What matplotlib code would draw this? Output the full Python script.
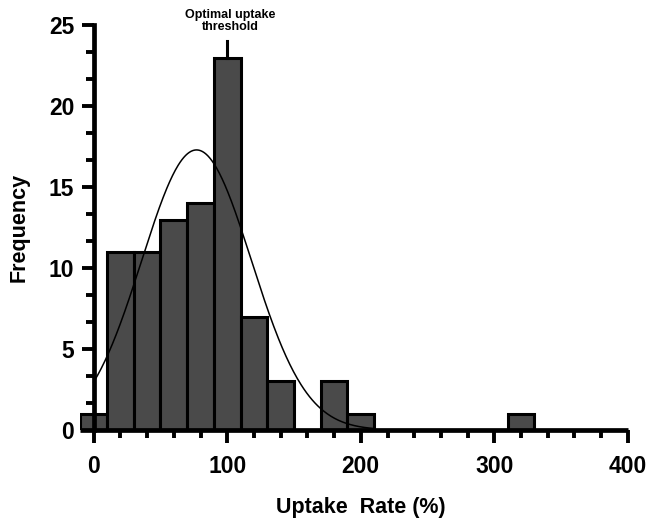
import numpy as np
import matplotlib
matplotlib.use("Agg")
import matplotlib.pyplot as plt
from matplotlib.ticker import MultipleLocator

plt.rcParams['font.family'] = ['Liberation Sans', 'DejaVu Sans']
plt.rcParams['font.weight'] = 'bold'

# Data
bin_centers = [0, 20, 40, 60, 80, 100, 120, 140, 160, 180, 200, 220, 240, 260, 280, 300, 320]
counts      = [1, 11, 11, 13, 14, 23, 7, 3, 0, 3, 1, 0, 0, 0, 0, 0, 1]
bin_width = 20
# Fitted Gaussian curve parameters
gauss_amp = 17.3
gauss_mean = 77
gauss_sd = 41
xticks = [0, 100, 200, 300, 400]
yticks = [0, 5, 10, 15, 20, 25]
threshold_x = 100
annot_text = "Optimal uptake\nthreshold"

fig = plt.figure(figsize=(6.48, 5.26), dpi=100)
ax = fig.add_axes([0.124, 0.1825, 0.845, 0.7695])

ax.bar(bin_centers, counts, width=bin_width, color='#4a4a4a', edgecolor='black',
       linewidth=2.2, zorder=2)

xs = np.linspace(0, 210, 300)
ys = gauss_amp * np.exp(-(xs - gauss_mean) ** 2 / (2 * gauss_sd ** 2))
ax.plot(xs, ys, color='black', linewidth=1.1, zorder=3)

# threshold marker
top = counts[bin_centers.index(threshold_x)]
ax.plot([threshold_x, threshold_x], [top, top + 1.0], color='black', linewidth=2.2,
        clip_on=False, zorder=3)
ax.text(threshold_x + 2, 24.5, annot_text, ha='center', va='bottom', fontsize=9,
        fontweight='bold', linespacing=1.05)

ax.set_xlim(-10, 400)
ax.set_ylim(0, 25)
ax.spines['left'].set_position(('data', 0))
ax.spines['left'].set_bounds(0, 25)
ax.spines['top'].set_visible(False)
ax.spines['right'].set_visible(False)
for s in ['left', 'bottom']:
    ax.spines[s].set_linewidth(3.4)
ax.spines['bottom'].set_capstyle('butt')

ax.set_xticks(xticks)
ax.set_yticks(yticks)
ax.xaxis.set_minor_locator(MultipleLocator(20))
ax.yaxis.set_minor_locator(MultipleLocator(5 / 3))
ax.tick_params(axis='both', which='major', direction='out', length=9, width=2.8,
               labelsize=16.5, pad=5)
ax.tick_params(axis='x', which='major', pad=9)
ax.tick_params(axis='both', which='minor', direction='out', length=6, width=2.8)
for lab in ax.get_xticklabels() + ax.get_yticklabels():
    lab.set_fontweight('bold')

ax.set_xlabel("Uptake  Rate (%)", fontsize=15.5, fontweight='bold')
ax.set_ylabel("Frequency", fontsize=15.5, fontweight='bold')
ax.yaxis.set_label_coords(-0.093, 0.5)
ax.xaxis.set_label_coords(0.512, -0.165)

fig.savefig("out.png", dpi=100)
